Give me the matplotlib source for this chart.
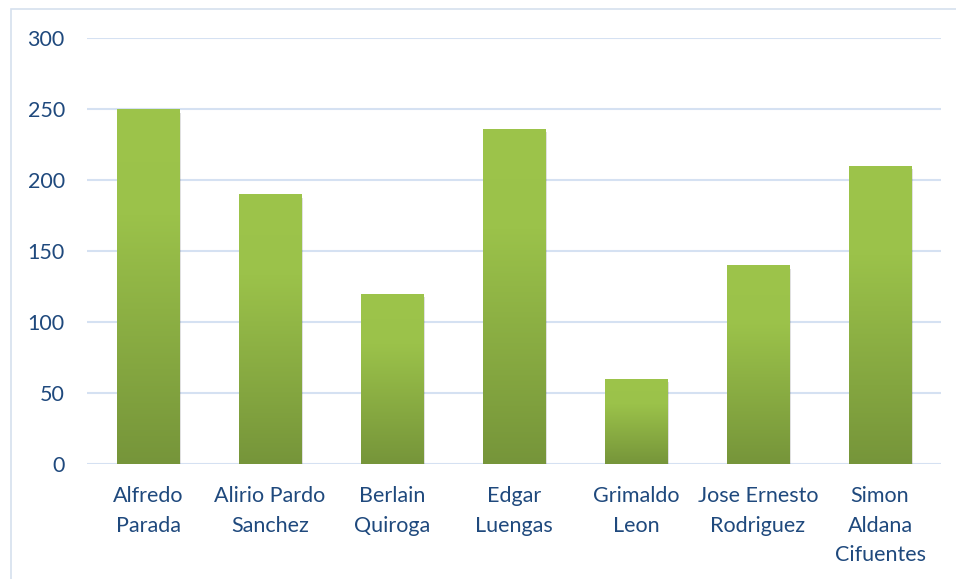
import matplotlib

matplotlib.use("Agg")
import matplotlib.pyplot as plt
import numpy as np
from matplotlib.colors import LinearSegmentedColormap
from matplotlib.patches import Rectangle

names = ["Alfredo\nParada", "Alirio Pardo\nSanchez", "Berlain\nQuiroga",
         "Edgar\nLuengas", "Grimaldo\nLeon", "Jose Ernesto\nRodriguez",
         "Simon\nAldana\nCifuentes"]
values = [250, 190, 120, 236, 60, 140, 210]
yticks = [0, 50, 100, 150, 200, 250, 300]

TEXT = "#1F497D"
GRID = "#D5E1F2"
grad = LinearSegmentedColormap.from_list(
    "green", [(0.0, "#76953A"), (0.7, "#9BC24A"), (1.0, "#9DC44B")])

plt.rcParams["font.family"] = ["Lato", "DejaVu Sans"]

fig = plt.figure(figsize=(9.56, 5.79), dpi=100)
ax = fig.add_axes([87 / 956, 1 - 464 / 579, 854 / 956, 426 / 579])

# chart frame
fig.patches.append(Rectangle((11 / 956, -0.01), 1.0, 1 - 9 / 579 + 0.01,
                             transform=fig.transFigure, fill=False,
                             edgecolor="#D6E0EE", linewidth=1.2))

x = np.arange(len(values))
bars = ax.bar(x, values, width=0.51, color="none", zorder=3)

g = np.linspace(0, 1, 256).reshape(-1, 1)
for b in bars:
    x0, w, h = b.get_x(), b.get_width(), b.get_height()
    # soft shadow
    ax.add_patch(Rectangle((x0 + 0.012, -2.5), w, h, facecolor="#000000",
                           alpha=0.12, edgecolor="none", zorder=2))
    im = ax.imshow(g, cmap=grad, origin="lower", aspect="auto",
                   extent=(x0, x0 + w, 0, h), zorder=3)
    im.set_clip_path(b)

ax.set_xlim(-0.5, len(values) - 0.5)
ax.set_ylim(0, 300)
ax.set_yticks(yticks)
ax.set_xticks(x)
ax.set_xticklabels(names, linespacing=1.6)
ax.yaxis.grid(True, color=GRID, linewidth=1.5, zorder=0)
ax.set_axisbelow(True)
for s in ax.spines.values():
    s.set_visible(False)
ax.tick_params(axis="both", length=0, colors=TEXT, labelsize=15.5)
ax.tick_params(axis="x", pad=16)
ax.tick_params(axis="y", pad=16)
for lbl in ax.get_yticklabels():
    lbl.set_horizontalalignment("right")

fig.savefig("out.png", dpi=100, facecolor="white")
